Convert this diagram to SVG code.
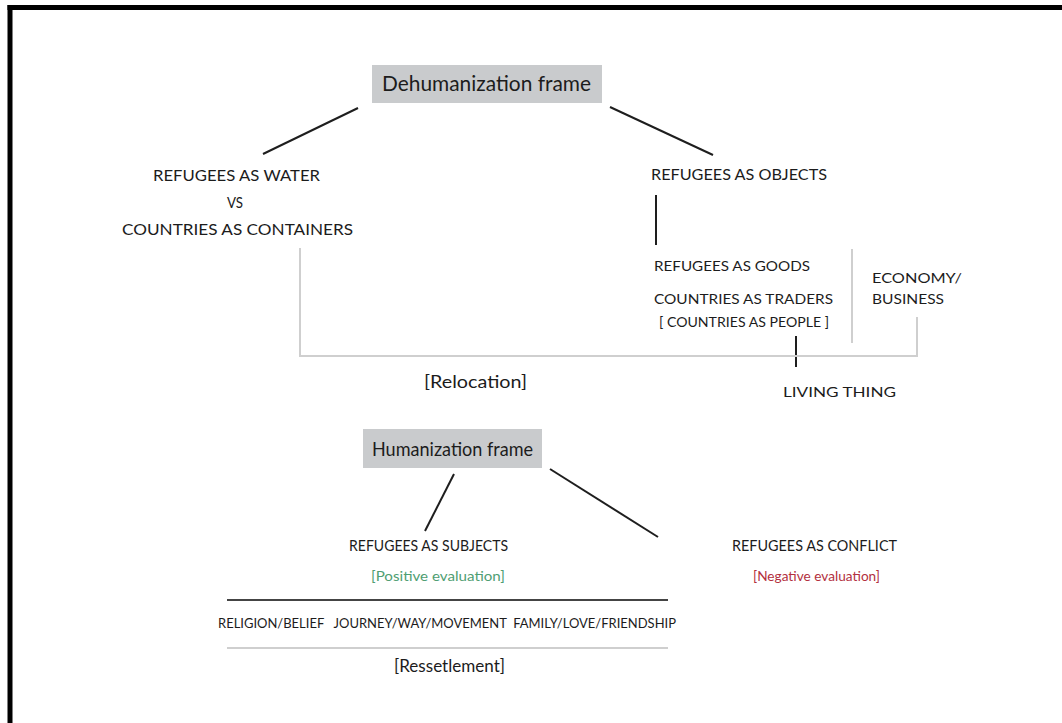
<svg xmlns="http://www.w3.org/2000/svg" width="1062" height="723" viewBox="0 0 1062 723">
<style>
  .t { font-family: "Lato", "Open Sans", "Liberation Sans", sans-serif; fill: #1c1c1c; }
  .cap { font-size: 15px; }
  .sm { font-size: 13.5px; }
  .title { font-size: 21px; }
  .br { font-size: 18px; }
  .box { fill: #c9cbcd; }
  .dk { stroke: #1e1e1e; stroke-width: 2; fill: none; }
  .gr { stroke: #cfcfcf; stroke-width: 2; fill: none; }
</style>
<rect x="0" y="0" width="1062" height="723" fill="#ffffff"/>
<g id="frame-border">
  <line x1="7.5" y1="7.5" x2="1062" y2="7.5" stroke="#000" stroke-width="5"/>
  <line x1="10" y1="5" x2="10" y2="723" stroke="#000" stroke-width="5"/>
</g>
<g id="connectors">
  <line class="dk" x1="358" y1="108" x2="263" y2="154"/>
  <line class="dk" x1="610" y1="107" x2="713" y2="155"/>
  <line class="dk" x1="656" y1="195" x2="656" y2="245"/>
  <line class="dk" x1="796" y1="336" x2="796" y2="367"/>
  <line class="dk" x1="454" y1="474" x2="425" y2="531"/>
  <line class="dk" x1="550" y1="469" x2="658" y2="537"/>
  <path class="gr" d="M300,248 V356 H917 V317"/>
  <line class="gr" x1="852" y1="249" x2="852" y2="343"/>
  <line x1="227" y1="600" x2="668" y2="600" stroke="#444" stroke-width="2"/>
  <line class="gr" x1="227" y1="648" x2="668" y2="648"/>
</g>
<g id="dehumanization">
  <rect class="box" x="372" y="65" width="230" height="38"/>
  <text class="t title" x="382" y="91" textLength="209" lengthAdjust="spacingAndGlyphs">Dehumanization frame</text>
</g>
<g id="water">
  <text class="t cap" x="153" y="181" textLength="167" lengthAdjust="spacingAndGlyphs">REFUGEES AS WATER</text>
  <text class="t cap" x="227" y="208" textLength="16" lengthAdjust="spacingAndGlyphs">VS</text>
  <text class="t cap" x="122" y="235" textLength="231" lengthAdjust="spacingAndGlyphs">COUNTRIES AS CONTAINERS</text>
</g>
<g id="objects">
  <text class="t cap" x="651" y="180" textLength="176" lengthAdjust="spacingAndGlyphs">REFUGEES AS OBJECTS</text>
</g>
<g id="goods">
  <text class="t sm" x="654" y="271" textLength="156" lengthAdjust="spacingAndGlyphs">REFUGEES AS GOODS</text>
  <text class="t sm" x="654" y="304" textLength="179" lengthAdjust="spacingAndGlyphs">COUNTRIES AS TRADERS</text>
  <text class="t" x="659" y="327" font-size="12.5" textLength="170" lengthAdjust="spacingAndGlyphs">[ COUNTRIES AS PEOPLE ]</text>
</g>
<g id="economy">
  <text class="t sm" x="872" y="283" textLength="90" lengthAdjust="spacingAndGlyphs">ECONOMY/</text>
  <text class="t sm" x="872" y="304" textLength="72" lengthAdjust="spacingAndGlyphs">BUSINESS</text>
</g>
<g id="living-thing">
  <text class="t sm" x="783" y="397" textLength="113" lengthAdjust="spacingAndGlyphs">LIVING THING</text>
</g>
<g id="relocation">
  <text class="t br" x="424" y="388" textLength="103" lengthAdjust="spacingAndGlyphs">[Relocation]</text>
</g>
<g id="humanization">
  <rect class="box" x="363" y="429" width="179" height="39"/>
  <text class="t" x="372" y="456" font-size="20" textLength="161" lengthAdjust="spacingAndGlyphs">Humanization frame</text>
</g>
<g id="subjects">
  <text class="t cap" x="349" y="551" textLength="159" lengthAdjust="spacingAndGlyphs">REFUGEES AS SUBJECTS</text>
  <text class="t" x="371" y="581" font-size="14" style="fill:#4f9e72" textLength="134" lengthAdjust="spacingAndGlyphs">[Positive evaluation]</text>
</g>
<g id="conflict">
  <text class="t cap" x="732" y="551" textLength="165" lengthAdjust="spacingAndGlyphs">REFUGEES AS CONFLICT</text>
  <text class="t" x="753" y="581" font-size="14" style="fill:#b3303e" textLength="127" lengthAdjust="spacingAndGlyphs">[Negative evaluation]</text>
</g>
<g id="domains">
  <text class="t" x="218" y="628" font-size="13" textLength="458" lengthAdjust="spacingAndGlyphs" xml:space="preserve">RELIGION/BELIEF   JOURNEY/WAY/MOVEMENT  FAMILY/LOVE/FRIENDSHIP</text>
</g>
<g id="resettlement">
  <text class="t br" x="394" y="672" textLength="111" lengthAdjust="spacingAndGlyphs">[Ressetlement]</text>
</g>
</svg>
